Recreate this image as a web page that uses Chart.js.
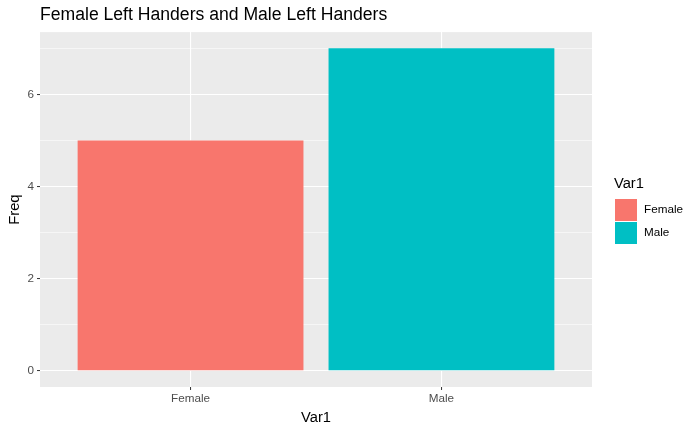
<!DOCTYPE html>
<html>
<head>
<meta charset="utf-8">
<script src="https://cdn.jsdelivr.net/npm/chart.js@4"></script>
<style>
  body { margin: 0; background: #fff; }
  #wrap { width: 700px; height: 432px; }
</style>
</head>
<body>
<div id="wrap"><canvas id="myChart" width="700" height="432"></canvas></div>
<script>
const categories = ['Female', 'Male'];
const freq = [5, 7];
const barColors = ['#F8766D', '#00BFC4'];
const yTicks = [0, 2, 4, 6];

const FONT = "'Liberation Sans', Arial, sans-serif";

// grey panel behind the plot
const panelBg = {
    id: 'panelBg',
    beforeDraw(chart) {
        const a = chart.chartArea;
        const ctx = chart.ctx;
        ctx.save();
        ctx.fillStyle = '#EBEBEB';
        ctx.fillRect(a.left, a.top, a.right - a.left, a.bottom - a.top);
        ctx.restore();
    }
};

// ggplot style legend on the right
const sideLegend = {
    id: 'sideLegend',
    afterDraw(chart) {
        const ctx = chart.ctx;
        ctx.save();
        ctx.fillStyle = '#000';
        ctx.font = '14.7px ' + FONT;
        ctx.textBaseline = 'middle';
        ctx.fillText('Var1', 614, 184);
        ctx.font = '11.7px ' + FONT;
        categories.forEach((c, i) => {
            const y = 199 + i * 23;
            ctx.fillStyle = barColors[i];
            ctx.fillRect(615, y, 22, 22);
            ctx.fillStyle = '#000';
            ctx.fillText(c, 644, y + 11);
        });
        ctx.restore();
    }
};

const ctx = document.getElementById('myChart').getContext('2d');
new Chart(ctx, {
    type: 'bar',
    data: {
        datasets: [{
            label: 'Freq',
            data: categories.map((c, i) => ({ x: i + 1, y: freq[i] })),
            backgroundColor: barColors,
            borderWidth: 0,
            categoryPercentage: 0.9,
            barPercentage: 1
        }]
    },
    options: {
        responsive: false,
        animation: false,
        layout: { padding: { left: 0, right: 108, top: 0, bottom: 0 } },
        plugins: {
            legend: { display: false },
            tooltip: { enabled: false },
            title: {
                display: true,
                text: 'Female Left Handers and Male Left Handers',
                align: 'start',
                fullSize: false,
                color: '#000',
                font: { family: FONT, size: 17.6, weight: 'normal' },
                padding: { top: 5, bottom: 6 }
            }
        },
        scales: {
            x: {
                type: 'linear',
                min: 0.4,
                max: 2.6,
                offset: false,
                afterBuildTicks: (s) => { s.ticks = categories.map((c, i) => ({ value: i + 1 })); },
                afterFit: (s) => { s.height = 45; },
                ticks: {
                    callback: (v) => categories[v - 1],
                    color: '#4D4D4D',
                    font: { family: FONT, size: 11.7 },
                    padding: 2,
                    maxRotation: 0
                },
                grid: {
                    offset: false,
                    color: '#FFFFFF',
                    lineWidth: 1.1,
                    tickColor: '#333333',
                    tickLength: 3,
                    tickWidth: 1
                },
                border: { display: false },
                title: {
                    display: true,
                    text: 'Var1',
                    color: '#000',
                    font: { family: FONT, size: 14.7 },
                    padding: { top: 0, bottom: 5 }
                }
            },
            y: {
                min: -0.35,
                max: 7.35,
                afterBuildTicks: (s) => {
                    const t = [];
                    for (let v = 0; v <= 7; v++) t.push({ value: v });
                    s.ticks = t;
                },
                afterFit: (s) => { s.width = 40; },
                ticks: {
                    callback: (v) => yTicks.includes(v) ? String(v) : '',
                    color: '#4D4D4D',
                    font: { family: FONT, size: 11.7 },
                    padding: 3
                },
                grid: {
                    color: '#FFFFFF',
                    lineWidth: (c) => (c.tick && yTicks.includes(c.tick.value)) ? 1.1 : 0.55,
                    tickColor: (c) => (c.tick && yTicks.includes(c.tick.value)) ? '#333333' : 'rgba(0,0,0,0)',
                    tickLength: 3,
                    tickWidth: 1
                },
                border: { display: false },
                title: {
                    display: true,
                    text: 'Freq',
                    color: '#000',
                    font: { family: FONT, size: 14.7 },
                    padding: { top: 6, bottom: 0 }
                }
            }
        }
    },
    plugins: [panelBg, sideLegend]
});
</script>
</body>
</html>
